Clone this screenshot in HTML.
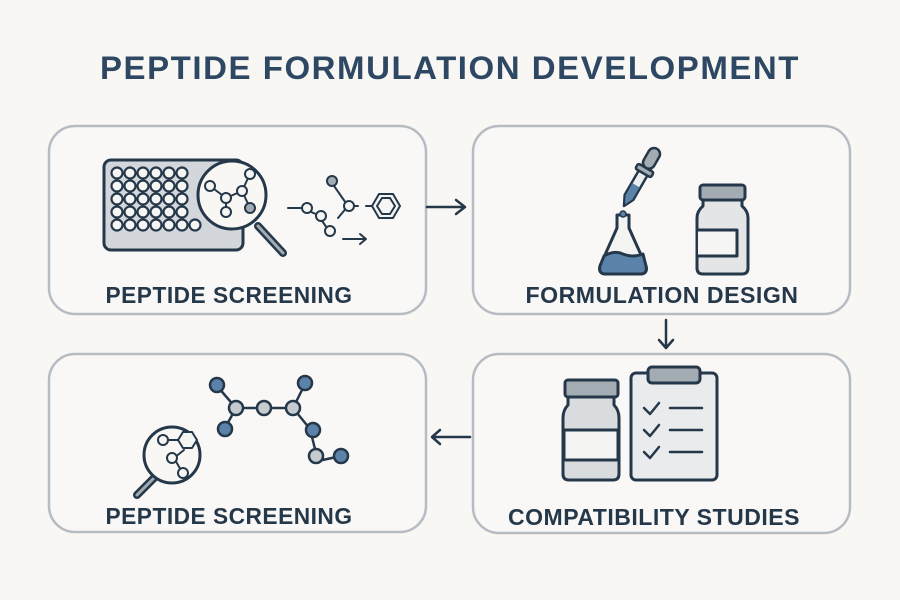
<!DOCTYPE html>
<html><head><meta charset="utf-8"><style>
html,body{margin:0;padding:0;background:#f8f7f4;}
svg{display:block}
</style></head><body>
<svg width="900" height="600" viewBox="0 0 900 600" xmlns="http://www.w3.org/2000/svg" font-family="Liberation Sans, DejaVu Sans, sans-serif">
<rect width="900" height="600" fill="#f8f7f4"/>
<text x="450" y="79" text-anchor="middle" font-size="32" font-weight="bold" fill="#2e4864" letter-spacing="1.5" textLength="700" lengthAdjust="spacingAndGlyphs">PEPTIDE FORMULATION DEVELOPMENT</text>
<g fill="#f9f8f6" stroke="#b6bcc2" stroke-width="2.5">
<rect x="49" y="126" width="377" height="188" rx="26"/>
<rect x="473" y="126" width="377" height="188" rx="26"/>
<rect x="49" y="354" width="377" height="178" rx="26"/>
<rect x="473" y="354" width="377" height="179" rx="26"/>
</g>
<g font-size="23" font-weight="bold" fill="#25384a" text-anchor="middle" letter-spacing="0.5">
<text x="229" y="303" textLength="247" lengthAdjust="spacingAndGlyphs">PEPTIDE SCREENING</text>
<text x="662" y="303" textLength="273" lengthAdjust="spacingAndGlyphs">FORMULATION DESIGN</text>
<text x="229" y="524" textLength="247" lengthAdjust="spacingAndGlyphs">PEPTIDE SCREENING</text>
<text x="654" y="525" textLength="292" lengthAdjust="spacingAndGlyphs">COMPATIBILITY STUDIES</text>
</g>
<g stroke="#25384a" stroke-width="2.5" fill="none" stroke-linecap="round" stroke-linejoin="round">
<path d="M427 207H465M456 200L465 207L456 214"/>
<path d="M666 320V348M659 340L666 348L673 340"/>
<path d="M470 437H432M440 430L432 437L440 444"/>
</g>
<g stroke="#25384a" stroke-width="3" stroke-linejoin="round" stroke-linecap="round">
<rect x="104" y="160" width="139" height="90" rx="7" fill="#d3d7db"/>
<g fill="#f5f5f3" stroke-width="2.2">
<circle cx="117" cy="173" r="5.5"/><circle cx="130" cy="173" r="5.5"/><circle cx="143" cy="173" r="5.5"/><circle cx="156" cy="173" r="5.5"/><circle cx="169" cy="173" r="5.5"/><circle cx="182" cy="173" r="5.5"/>
<circle cx="117" cy="186" r="5.5"/><circle cx="130" cy="186" r="5.5"/><circle cx="143" cy="186" r="5.5"/><circle cx="156" cy="186" r="5.5"/><circle cx="169" cy="186" r="5.5"/><circle cx="182" cy="186" r="5.5"/>
<circle cx="117" cy="199" r="5.5"/><circle cx="130" cy="199" r="5.5"/><circle cx="143" cy="199" r="5.5"/><circle cx="156" cy="199" r="5.5"/><circle cx="169" cy="199" r="5.5"/><circle cx="182" cy="199" r="5.5"/>
<circle cx="117" cy="212" r="5.5"/><circle cx="130" cy="212" r="5.5"/><circle cx="143" cy="212" r="5.5"/><circle cx="156" cy="212" r="5.5"/><circle cx="169" cy="212" r="5.5"/><circle cx="182" cy="212" r="5.5"/>
<circle cx="117" cy="225" r="5.5"/><circle cx="130" cy="225" r="5.5"/><circle cx="143" cy="225" r="5.5"/><circle cx="156" cy="225" r="5.5"/><circle cx="169" cy="225" r="5.5"/><circle cx="182" cy="225" r="5.5"/><circle cx="195" cy="225" r="5.5"/>
</g>
<path d="M258 226L283 253" stroke-width="8"/><path d="M258 226L283 253" stroke="#a4acb3" stroke-width="3"/>
<circle cx="232" cy="195" r="34" fill="#f8f7f4"/>
<g stroke-width="2" fill="#f5f5f3">
<path d="M210 186L226 198L242 191L250 174M226 198L226 212M242 191L250 208" fill="none"/>
<circle cx="210" cy="186" r="5"/><circle cx="226" cy="198" r="5"/><circle cx="242" cy="191" r="5"/><circle cx="250" cy="174" r="5"/><circle cx="226" cy="212" r="5"/><circle cx="250" cy="208" r="5" fill="#a4acb3"/>
</g>
<g stroke-width="2" fill="#f5f5f3">
<path d="M288 208H302M302 208L318 215L329 231M332 183L348 206L358 206M348 206L338 218M366 206L379 206" fill="none"/>
<circle cx="307" cy="208" r="5"/><circle cx="321" cy="216" r="5"/><circle cx="330" cy="231" r="5"/><circle cx="332" cy="181" r="5" fill="#a4acb3"/><circle cx="349" cy="206" r="5"/>
<polygon points="372,206 379,194 393,194 400,206 393,218 379,218"/>
<polygon points="377,206 382,198 390,198 395,206 390,214 382,214" fill="none"/>
<path d="M343 239H366M360 234L366 239L360 244" fill="none"/>
</g>
<!-- dropper -->
<g transform="translate(624,206) rotate(30)">
<path d="M-5 -38V-10L0 0L5 -10V-38Z" fill="#ecedee" stroke-width="2.5"/>
<path d="M-4 -24V-10L0 -2L4 -10V-24Z" fill="#5b82a8" stroke="none"/>
<rect x="-9" y="-44" width="18" height="6" rx="2" fill="#a4acb3" stroke-width="2.5"/>
<rect x="-6" y="-66" width="12" height="22" rx="6" fill="#a4acb3" stroke-width="2.5"/>
</g>
<!-- flask -->
<path d="M617 215V228L600 266Q598 274 606 274H640Q648 274 646 266L629 228V215Z" fill="#f3f3f2"/>
<path d="M604 256Q614 250 623 254Q633 258 643 254L646 266Q648 274 640 274H606Q598 274 600 266Z" fill="#5b82a8"/>
<circle cx="623" cy="214" r="3" fill="#5b82a8" stroke-width="1.5"/>
<!-- vial -->
<rect x="700" y="185" width="45" height="15" rx="3" fill="#a4acb3"/>
<path d="M703 200V206Q697 211 697 218V268Q697 274 703 274H742Q748 274 748 268V218Q748 211 742 206V200Z" fill="#e3e5e7"/>
<path d="M698 230H737V256H698" fill="#f5f5f3"/>
<!-- vial 2 -->
<rect x="565" y="380" width="53" height="17" rx="3" fill="#a4acb3"/>
<path d="M568 397V405Q563 410 563 418V474Q563 480 569 480H613Q619 480 619 474V418Q619 410 614 405V397Z" fill="#d9dcdf"/>
<rect x="564" y="430" width="54" height="30" fill="#f3f3f2"/>
<!-- clipboard -->
<rect x="631" y="373" width="86" height="107" rx="5" fill="#e9ebec"/>
<rect x="648" y="367" width="52" height="16" rx="4" fill="#a4acb3"/>
<g fill="none" stroke-width="2.5">
<path d="M644 408L650 414L659 403M670 408H702"/>
<path d="M644 430L650 436L659 425M670 430H702"/>
<path d="M644 452L650 458L659 447M670 452H702"/>
</g>
<!-- bottom-left magnifier -->
<path d="M154 478L137 495" stroke-width="8"/><path d="M154 478L137 495" stroke="#a4acb3" stroke-width="3"/>
<circle cx="172" cy="455" r="28" fill="#f8f7f4"/>
<g stroke-width="2" fill="#f5f5f3">
<path d="M163 440L178 440M184 450L174 458L182 472" fill="none"/>
<circle cx="163" cy="440" r="5"/>
<polygon points="178,440 183,432 192,432 197,440 192,448 183,448"/>
<circle cx="172" cy="458" r="5"/><circle cx="183" cy="473" r="5"/>
</g>
<g stroke-width="2.5">
<path d="M217 386L236 408L264 408L293 408L305 384M293 408L310 429L318 461L341 456M236 408L225 428" fill="none"/>
<circle cx="217" cy="385" r="7" fill="#5b82a8"/><circle cx="236" cy="408" r="7" fill="#c6cbd0"/><circle cx="264" cy="408" r="7" fill="#c6cbd0"/><circle cx="293" cy="408" r="7" fill="#c6cbd0"/><circle cx="305" cy="383" r="7" fill="#5b82a8"/><circle cx="225" cy="429" r="7" fill="#5b82a8"/><circle cx="313" cy="430" r="7" fill="#5b82a8"/><circle cx="316" cy="456" r="7" fill="#c6cbd0"/><circle cx="341" cy="456" r="7" fill="#5b82a8"/>
</g>
</g>
</svg>
</body></html>
